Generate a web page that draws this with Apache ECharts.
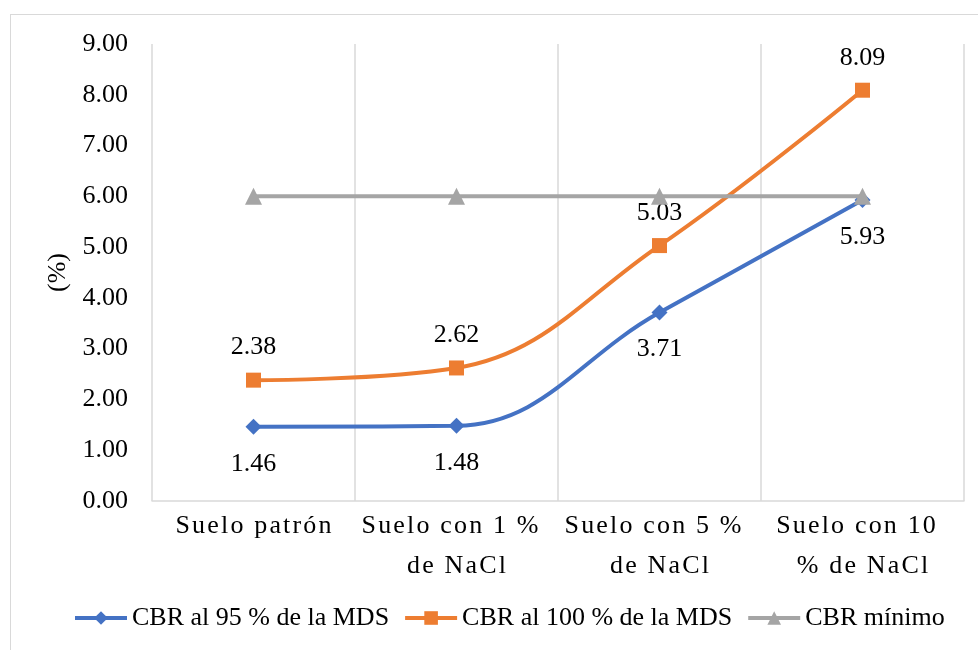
<!DOCTYPE html>
<html>
<head>
<meta charset="utf-8">
<script src="https://cdn.jsdelivr.net/npm/echarts@6/dist/echarts.min.js"></script>
<style>
    html, body {margin:0;padding:0;background:#ffffff;}
    #frame {position:absolute;left:10px;top:14px;width:980px;height:650px;border:1px solid #d9d9d9;box-sizing:border-box;}
    #chart {position:absolute;left:0;top:0;width:978px;height:650px;}
</style>
</head>
<body>
<div id="frame"></div>
<div id="chart"></div>
<script>
    var categories = ['Suelo patrón', 'Suelo con 1 %\nde NaCl', 'Suelo con 5 %\nde NaCl', 'Suelo con 10\n% de NaCl'];
    var cbr95 = [1.46, 1.48, 3.71, 5.93];
    var cbr100 = [2.38, 2.62, 5.03, 8.09];
    var cbrMin = [6, 6, 6, 6];
    var seriesNames = ['CBR al 95 % de la MDS', 'CBR al 100 % de la MDS', 'CBR mínimo'];

    var font = 'Liberation Serif';
    var chart = echarts.init(document.getElementById('chart'));

    // etiquetas del eje x con espaciado ancho (como en el original)
    function spread(txt) {
        return txt.split('\n').map(function (line, i, all) {
            var s = line.split('').join('\u200a');
            if (all.length > 1 && i === 0) s = s + '\u2002';
            return s;
        }).join('\n');
    }

    var option = {
        animation: false,
        textStyle: {fontFamily: font},
        grid: {left: 152, right: 14, top: 44, bottom: 149},
        legend: {
            bottom: 14,
            left: 68,
            itemWidth: 52,
            itemHeight: 17,
            itemGap: 14,
            lineStyle: {width: 4},
            textStyle: {fontFamily: font, fontSize: 26, color: '#000'},
            data: seriesNames
        },
        xAxis: {
            type: 'category',
            data: categories,
            axisLine: {lineStyle: {color: '#d9d9d9', width: 1.5}},
            axisTick: {show: false},
            splitLine: {show: true, lineStyle: {color: '#d9d9d9', width: 1.5}},
            axisLabel: {
                interval: 0,
                margin: 5,
                fontFamily: font,
                fontSize: 26,
                color: '#000',
                lineHeight: 40,
                formatter: function (v) { return spread(v); }
            }
        },
        yAxis: {
            type: 'value',
            min: 0,
            max: 9,
            interval: 1,
            name: '(%)',
            nameLocation: 'middle',
            nameGap: 80,
            nameRotate: 90,
            nameTextStyle: {fontFamily: font, fontSize: 26, color: '#000'},
            axisLine: {show: false},
            axisTick: {show: false},
            splitLine: {show: false},
            axisLabel: {
                margin: 24,
                fontFamily: font,
                fontSize: 26,
                color: '#000',
                formatter: function (v) { return v.toFixed(2); }
            }
        },
        series: [
            {
                name: seriesNames[0],
                type: 'line',
                data: cbr95,
                smooth: 0.4,
                symbol: 'diamond',
                symbolSize: 16,
                itemStyle: {color: '#4472c4'},
                lineStyle: {color: '#4472c4', width: 4},
                label: {
                    show: true,
                    position: 'bottom',
                    distance: 16,
                    fontFamily: font,
                    fontSize: 26,
                    color: '#000',
                    formatter: function (p) { return p.value.toFixed(2); }
                },
                z: 3
            },
            {
                name: seriesNames[1],
                type: 'line',
                data: cbr100,
                smooth: 0.4,
                symbol: 'rect',
                symbolSize: 15,
                itemStyle: {color: '#ed7d31'},
                lineStyle: {color: '#ed7d31', width: 4},
                label: {
                    show: true,
                    position: 'top',
                    distance: 12,
                    fontFamily: font,
                    fontSize: 26,
                    color: '#000',
                    formatter: function (p) { return p.value.toFixed(2); }
                },
                z: 3
            },
            {
                name: seriesNames[2],
                type: 'line',
                data: cbrMin,
                symbol: 'triangle',
                symbolSize: 17,
                itemStyle: {color: '#a5a5a5'},
                lineStyle: {color: '#a5a5a5', width: 4},
                label: {show: false},
                z: 4
            }
        ]
    };

    chart.setOption(option);

    window.onresize = function () {
        chart.resize();
    };
</script>
</body>
</html>
